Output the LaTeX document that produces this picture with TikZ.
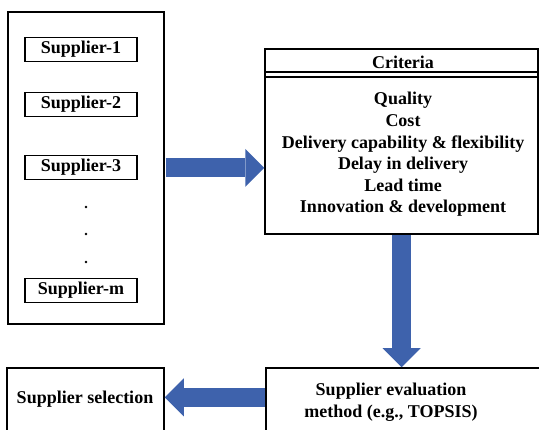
\documentclass[tikz,border=0pt]{standalone}
\usepackage{fontspec}
\setmainfont{Liberation Serif}
\usetikzlibrary{arrows.meta,positioning}
\definecolor{arrowblue}{RGB}{62,98,172}

\tikzset{
  box/.style={draw, line width=1.5pt, inner sep=0pt},
  txt/.style={font=\bfseries\fontsize{18}{21.6}\selectfont, inner sep=0pt},
  bigarrow/.style={draw=arrowblue, line width=19pt, shorten <=0.75pt,
    -{Triangle[width=38pt, length=19pt, line width=0pt]}}
}

\begin{document}
\begin{tikzpicture}[x=1pt, y=-1pt]
  \useasboundingbox (0,0) rectangle (539,430);

  % supplier pool on the left
  \node[box, minimum width=156pt, minimum height=312pt] (pool) at (86,168) {};
  \foreach \s/\y in {1/49.5, 2/104.5, 3/167.5, m/290.5} {
    \node[box, txt, minimum width=112pt, minimum height=24pt] (sup\s) at (81,\y) {Supplier-\s};
  }
  % dots between supplier 3 and m
  \foreach \y in {207,234,262} {
    \fill (86,\y) circle (1.3pt);
  }

  % criteria box, header separated by a double line
  \node[box, minimum width=273pt, minimum height=185pt] (crit) at (401.5,141.5) {};
  \draw[line width=1.5pt] ([yshift=-24pt]crit.north west) -- ([yshift=-24pt]crit.north east);
  \draw[line width=1.5pt] ([yshift=-29pt]crit.north west) -- ([yshift=-29pt]crit.north east);
  \node[txt, anchor=base] (crithead) at (403,69) {Criteria};
  \foreach \c [count=\i] in {Quality, Cost, Delivery capability \& flexibility,
      Delay in delivery, Lead time, Innovation \& development} {
    \node[txt, anchor=base] (crit\i) at (403,83.4+21.6*\i) {\c};
  }

  % evaluation and selection boxes (cut by the bottom edge)
  \node[box, minimum width=279pt, minimum height=80pt] (evalbox) at (405.5,408) {};
  \node[txt, anchor=base] (eval1) at (391,396) {Supplier evaluation};
  \node[txt, anchor=base] (eval2) at (391,418) {method (e.g., TOPSIS)};
  \node[box, minimum width=157pt, minimum height=80pt] (selbox) at (85.5,408) {};
  \node[txt, anchor=base] (sel) at (85,404) {Supplier selection};

  % block arrows
  \coordinate (selrow) at (0,397.5);
  \draw[bigarrow] (pool.east) -- (pool.east -| crit.west);
  \draw[bigarrow] (crit.south) -- (crit.south |- evalbox.north);
  \draw[bigarrow] (evalbox.west |- selrow) -- (selbox.east |- selrow);
\end{tikzpicture}
\end{document}
